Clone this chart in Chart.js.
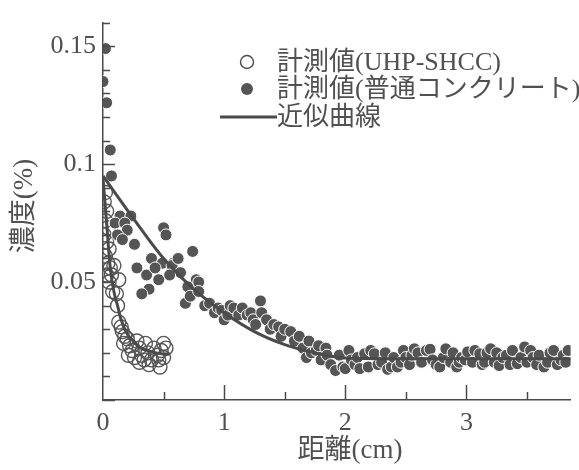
<!DOCTYPE html>
<html>
<head>
<meta charset="utf-8">
<script src="https://cdn.jsdelivr.net/npm/chart.js@4/dist/chart.umd.min.js"></script>
<style>
  html, body { margin: 0; padding: 0; background: #fff; }
  #wrap { width: 579px; height: 470px; position: relative; }
</style>
</head>
<body>
<div id="wrap"><canvas id="c"></canvas></div>
<script>
// Chloride concentration profiles vs. depth
const seriesNames = ['計測値(UHP-SHCC)', '計測値(普通コンクリート)', '近似曲線'];
const axisTitleX = '距離(cm)';
const axisTitleY = '濃度(%)';
const yTicks = [0, 0.05, 0.1, 0.15];
const yTickLabels = ['', '0.05', '0.1', '0.15'];
const xTicks = [0, 1, 2, 3];
const xTickLabels = ['0', '1', '2', '3'];

// measured, UHP-SHCC: [depth cm, concentration %]
const shccMeasured = [
  [0.02,0.088],[0.01,0.084],[0.03,0.080],[0.02,0.076],[0.04,0.073],[0.01,0.070],
  [0.03,0.067],[0.05,0.064],[0.02,0.061],[0.04,0.058],[0.06,0.056],[0.03,0.053],
  [0.05,0.050],[0.07,0.053],[0.09,0.057],[0.13,0.051],[0.11,0.045],[0.08,0.046],
  [0.12,0.040],[0.13,0.033],[0.15,0.031],[0.16,0.029],[0.18,0.027],[0.20,0.026],
  [0.17,0.024],[0.22,0.023],[0.24,0.021],[0.21,0.019],[0.26,0.018],[0.28,0.025],
  [0.30,0.022],[0.32,0.019],[0.30,0.016],[0.35,0.024],[0.37,0.020],[0.40,0.017],
  [0.38,0.015],[0.42,0.022],[0.45,0.019],[0.47,0.014],[0.48,0.021],[0.50,0.018],
  [0.52,0.022],[0.50,0.024],[0.46,0.017],[0.34,0.017]
];

// measured, ordinary concrete
const ordinaryMeasured = [
  [0.02,0.149],[0.00,0.135],[0.03,0.126],[0.06,0.106],[0.07,0.095],
  [0.14,0.078],[0.23,0.078],[0.10,0.075],[0.18,0.075],[0.20,0.072],[0.12,0.070],
  [0.16,0.068],[0.26,0.066],[0.50,0.073],[0.52,0.070],[0.74,0.063],[0.40,0.060],
  [0.58,0.058],[0.28,0.056],[0.36,0.053],[0.38,0.047],[0.32,0.045],[0.46,0.051],
  [0.49,0.058],[0.57,0.057],[0.64,0.054],[0.77,0.051],[0.77,0.047],[0.68,0.041],
  [0.43,0.056],[0.55,0.053],[0.62,0.060],[0.70,0.048],[0.72,0.044],
  [0.79,0.050],[0.79,0.046],[0.84,0.040],[0.88,0.041],[0.92,0.037],[0.95,0.039],
  [0.98,0.038],[1.00,0.034],[1.03,0.036],[1.05,0.040],[1.08,0.039],[1.12,0.036],
  [1.15,0.039],[1.19,0.036],[1.22,0.037],[1.24,0.034],[1.26,0.032],[1.30,0.042],
  [1.31,0.037],[1.35,0.034],[1.38,0.030],[1.41,0.032],[1.45,0.031],[1.47,0.027],
  [1.50,0.030],[1.55,0.029],[1.58,0.025],[1.62,0.027],[1.65,0.022],[1.68,0.018],
  [1.70,0.025],[1.72,0.020],[1.76,0.021],[1.78,0.023],
  [1.80,0.017],[1.84,0.022],[1.85,0.019],[1.88,0.015],[1.92,0.0125],[1.95,0.019],
  [1.98,0.014],[2.00,0.0133],[2.03,0.021],[2.05,0.017],[2.08,0.015],[2.10,0.018],
  [2.12,0.0133],[2.16,0.0196],[2.19,0.014],[2.21,0.021],[2.24,0.0196],[2.27,0.015],
  [2.30,0.016],[2.33,0.020],[2.35,0.013],[2.38,0.014],[2.40,0.018],[2.43,0.014],
  [2.46,0.016],[2.48,0.021],[2.50,0.018],[2.53,0.015],[2.55,0.019],[2.57,0.0217],
  [2.60,0.020],[2.63,0.016],[2.67,0.021],[2.70,0.0215],[2.72,0.017],[2.75,0.015],
  [2.78,0.014],[2.81,0.018],[2.83,0.0217],[2.87,0.016],[2.89,0.020],[2.92,0.014],
  [2.94,0.016],[2.96,0.018],[2.99,0.017],[3.01,0.0204],[3.05,0.016],[3.07,0.021],
  [3.11,0.0196],[3.13,0.015],[3.15,0.016],[3.17,0.020],[3.20,0.0217],[3.23,0.016],
  [3.25,0.020],[3.27,0.0146],[3.30,0.018],[3.33,0.019],[3.36,0.015],[3.38,0.021],
  [3.42,0.0154],[3.45,0.018],[3.48,0.0225],[3.50,0.016],[3.53,0.021],[3.55,0.018],
  [3.58,0.015],[3.60,0.019],[3.64,0.014],[3.67,0.016],[3.69,0.020],[3.72,0.021],
  [3.75,0.015],[3.78,0.017],[3.80,0.019],[3.82,0.016],[3.84,0.021]
];

// fitted curves
const shccFit = [
  [0,0.094],[0.03,0.075],[0.06,0.056],[0.09,0.046],[0.12,0.040],[0.15,0.034],
  [0.20,0.028],[0.25,0.025],[0.30,0.0225],[0.40,0.0205],[0.50,0.0195],[0.55,0.0195]
];
const ordinaryFit = [
  [0,0.095],[0.25,0.077],[0.50,0.060],[0.75,0.047],[1.00,0.037],[1.25,0.029],
  [1.50,0.0235],[1.75,0.020],[2.00,0.0178],[2.50,0.0175],[3.00,0.0175],[3.50,0.0175],[3.90,0.0175]
];

const toXY = arr => arr.map(p => ({ x: p[0], y: p[1] }));
const INK = '#4a4a4a';
const TEXT = '#505050';
const SERIF = '"Liberation Serif", "Noto Sans CJK JP", serif';

const decor = {
  id: 'decor',
  afterDraw(chart) {
    const { ctx, scales: { x, y }, chartArea: a } = chart;
    ctx.save();
    ctx.strokeStyle = INK;
    ctx.lineWidth = 1.5;
    // inward ticks on the y axis
    for (let i = 0; i <= 16; i++) {
      const py = Math.round(y.getPixelForValue(i / 100)) + 0.5;
      const len = (i % 5 === 0) ? 12 : 7;
      ctx.beginPath(); ctx.moveTo(a.left, py); ctx.lineTo(a.left + len, py); ctx.stroke();
    }
    // inward ticks on the x axis
    for (let i = 1; i <= 7; i++) {
      const px = Math.round(x.getPixelForValue(i / 2)) + 0.5;
      const len = (i % 2 === 0) ? 15 : 8;
      ctx.beginPath(); ctx.moveTo(px, a.bottom); ctx.lineTo(px, a.bottom - len); ctx.stroke();
    }
    // axis titles
    ctx.fillStyle = TEXT;
    ctx.font = '27px ' + SERIF;
    ctx.textAlign = 'center';
    ctx.textBaseline = 'middle';
    ctx.fillText(axisTitleX, 350, 451);
    ctx.save();
    ctx.translate(25, 206);
    ctx.rotate(-Math.PI / 2);
    ctx.fillText(axisTitleY, 0, 0);
    ctx.restore();
    // legend
    ctx.font = '26px ' + SERIF;
    ctx.textAlign = 'left';
    const lx = 277, rows = [62, 89, 117];
    ctx.lineWidth = 1.4;
    ctx.beginPath(); ctx.arc(247, rows[0], 6.5, 0, Math.PI * 2); ctx.stroke();
    ctx.fillStyle = '#555';
    ctx.beginPath(); ctx.arc(247, rows[1], 6, 0, Math.PI * 2); ctx.fill();
    ctx.lineWidth = 3;
    ctx.beginPath(); ctx.moveTo(220, rows[2]); ctx.lineTo(277, rows[2]); ctx.stroke();
    ctx.fillStyle = TEXT;
    seriesNames.forEach((t, i) => ctx.fillText(t, lx, rows[i] + 1));
    ctx.restore();
  }
};

new Chart(document.getElementById('c'), {
  type: 'scatter',
  data: {
    datasets: [
      {
        label: seriesNames[0], data: toXY(shccMeasured),
        pointRadius: 7, pointBackgroundColor: 'rgba(0,0,0,0)',
        pointBorderColor: '#555', pointBorderWidth: 1.4, order: 3
      },
      {
        label: seriesNames[1], data: toXY(ordinaryMeasured),
        pointRadius: 6, pointBackgroundColor: '#555',
        pointBorderColor: '#fff', pointBorderWidth: 1, order: 2
      },
      {
        label: seriesNames[2], data: toXY(shccFit), type: 'line', showLine: true,
        borderColor: INK, borderWidth: 3, pointRadius: 0,
        cubicInterpolationMode: 'monotone', fill: false, order: 1
      },
      {
        label: seriesNames[2] + ' ', data: toXY(ordinaryFit), type: 'line', showLine: true,
        borderColor: INK, borderWidth: 3, pointRadius: 0,
        cubicInterpolationMode: 'monotone', fill: false, order: 1
      }
    ]
  },
  options: {
    responsive: true,
    maintainAspectRatio: false,
    animation: false,
    layout: { padding: { top: 10, right: 0, left: 0, bottom: 0 } },
    plugins: { legend: { display: false }, tooltip: { enabled: false } },
    scales: {
      x: {
        type: 'linear', min: 0, max: 3.86,
        grid: { display: false, drawTicks: false },
        border: { display: true, color: INK, width: 1.5 },
        afterBuildTicks: s => { s.ticks = xTicks.map(v => ({ value: v })); },
        ticks: {
          padding: 8, color: TEXT,
          font: { family: SERIF, size: 26 },
          callback: (v, i) => xTickLabels[i]
        },
        afterFit: s => { s.height = 70; }
      },
      y: {
        type: 'linear', min: 0, max: 0.16,
        grid: { display: false, drawTicks: false },
        border: { display: true, color: INK, width: 1.5 },
        afterBuildTicks: s => { s.ticks = yTicks.map(v => ({ value: v })); },
        ticks: {
          padding: 7, color: TEXT,
          font: { family: SERIF, size: 26 },
          callback: (v, i) => yTickLabels[i]
        },
        afterFit: s => { s.width = 103; }
      }
    }
  },
  plugins: [decor]
});
</script>
</body>
</html>
